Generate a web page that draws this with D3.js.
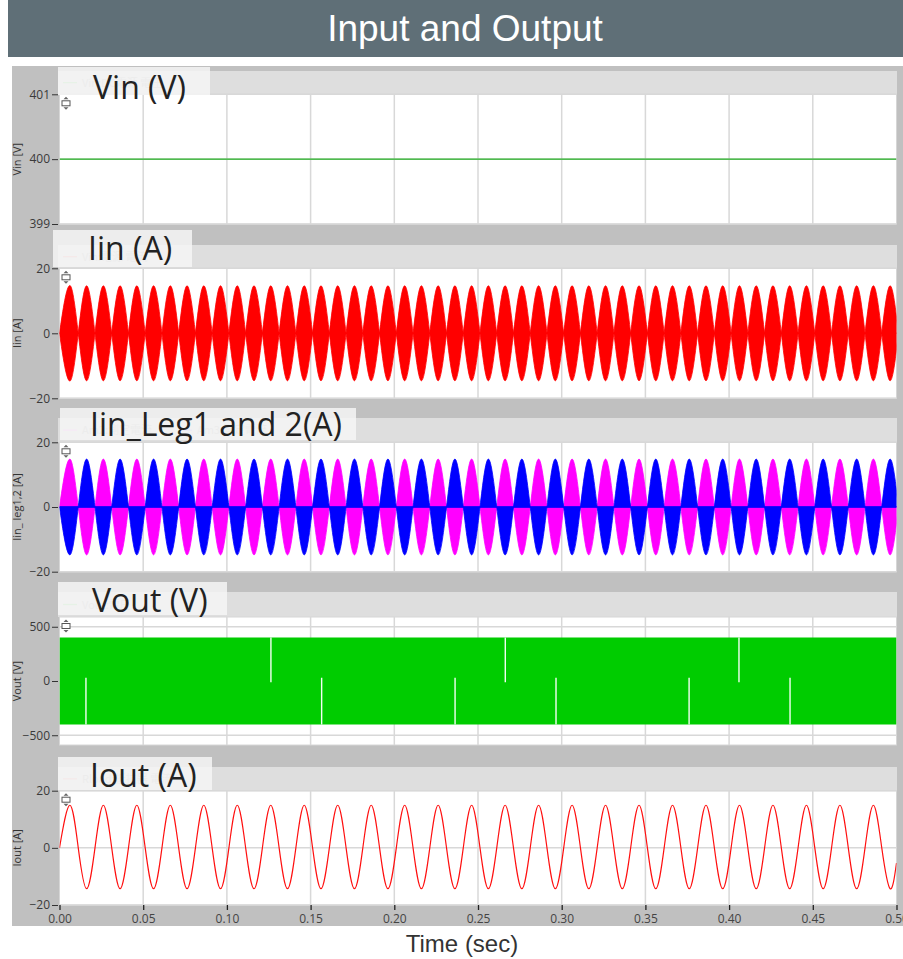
<!DOCTYPE html>
<html>
<head>
<meta charset="utf-8">
<script src="https://cdn.jsdelivr.net/npm/d3@7"></script>
<style>
  body { margin: 0; background: #fff; }
  text { font-family: "Liberation Sans", Arial, sans-serif; }
</style>
</head>
<body>
<svg id="chart" width="903" height="959"></svg>
<script>

// ---- data ----
const timeDomain = [0, 0.5]
const timeTicks = [0, 0.05, 0.1, 0.15, 0.2, 0.25, 0.3, 0.35, 0.4, 0.45, 0.5]

const vinTicks = [399, 400, 401]
const ampTicks = [-20, 0, 20]
const voutTicks = [-500, 0, 500]

// Vin: flat DC line
const vinLine = [[0, 400], [0.5, 400]]

// half-cycles: first peak at 6.2 ms, one lobe every 10 ms, zero crossings 5 ms after each peak
const firstPeak = 0.0062
const halfCycle = 0.01

// Iin envelope height per half-cycle (A)
const iinPeaks = [14.7, 14.6, 14.6, 14.6, 14.6, 14.6, 14.6, 14.6, 14.6, 14.6,
                  14.6, 14.6, 14.6, 14.6, 14.6, 14.6, 14.6, 14.6, 14.6, 14.6,
                  14.6, 14.6, 14.6, 14.6, 14.6, 14.6, 14.6, 14.6, 14.6, 14.6,
                  14.6, 14.6, 14.6, 14.6, 14.6, 14.6, 14.6, 14.6, 14.6, 14.6,
                  14.6, 14.6, 14.6, 14.6, 14.6, 14.6, 14.6, 14.6, 14.6, 14.6]

// Leg 1 (pink) signed peak per half-cycle; leg 2 (blue) is its mirror
const leg1Peaks = [14.8, -14.8, 14.8, -14.8, 14.8, -14.8, 14.8, -14.8, 14.8, -14.8,
                   14.8, -14.8, 14.8, -14.8, 14.8, -14.8, 14.8, -14.8, 14.8, -14.8,
                   14.8, -14.8, 14.8, -14.8, 14.8, -14.8, 14.8, -14.8, 14.8, -14.8,
                   14.8, -14.8, 14.8, -14.8, 14.8, -14.8, 14.8, -14.8, 14.8, -14.8,
                   14.8, -14.8, 14.8, -14.8, 14.8, -14.8, 14.8, -14.8, 14.8, -14.8]
const leg2Peaks = [-14.8, 14.8, -14.8, 14.8, -14.8, 14.8, -14.8, 14.8, -14.8, 14.8,
                   -14.8, 14.8, -14.8, 14.8, -14.8, 14.8, -14.8, 14.8, -14.8, 14.8,
                   -14.8, 14.8, -14.8, 14.8, -14.8, 14.8, -14.8, 14.8, -14.8, 14.8,
                   -14.8, 14.8, -14.8, 14.8, -14.8, 14.8, -14.8, 14.8, -14.8, 14.8,
                   -14.8, 14.8, -14.8, 14.8, -14.8, 14.8, -14.8, 14.8, -14.8, 14.8]

// Vout: switching between +400 and -400 V, drawn as a band
const voutBand = [[0, -400, 400], [0.5, -400, 400]]
// thin white gaps in the band
const voutGapTimes = [0.0158, 0.1263, 0.1566, 0.2363, 0.2663, 0.2966, 0.3761, 0.4059, 0.4364]
const voutGapSide = ['low', 'high', 'low', 'low', 'high', 'low', 'low', 'high', 'low']

// Iout: signed peak per half-cycle (A)
const ioutPeaks = [14.9, -14.3, 14.9, -14.3, 14.9, -14.3, 14.9, -14.3, 14.9, -14.3,
                   14.9, -14.3, 14.9, -14.3, 14.9, -14.3, 14.9, -14.3, 14.9, -14.3,
                   14.9, -14.3, 14.9, -14.3, 14.9, -14.3, 14.9, -14.3, 14.9, -14.3,
                   14.9, -14.3, 14.9, -14.3, 14.9, -14.3, 14.9, -14.3, 14.9, -14.3,
                   14.9, -14.3, 14.9, -14.3, 14.9, -14.3, 14.9, -14.3, 14.9, -14.3]
const ioutStart = 0
const ioutEnd = -5.3

// ---- layout ----
const plotLeft = 59.5, plotRight = 896.5

const panels = [
    { key: 'vin', label: 'Vin (V)', yTitle: 'Vin [V]', domain: [399, 401], ticks: vinTicks,
      top: 94.3, bottom: 224, stripTop: 71, box: [58, 67, 152, 28], labelX: 93, labelY: 99,
      legend: [{ x: 63, color: '#8fe38f', text: 'Vin:DC電源 電圧' }] },
    { key: 'iin', label: 'Iin (A)', yTitle: 'Iin [A]', domain: [-20, 20], ticks: ampTicks,
      top: 268.3, bottom: 398.3, stripTop: 245, box: [53, 230, 139, 37], labelX: 88, labelY: 260,
      legend: [{ x: 63, color: '#f5a3a3', text: 'Vin:電源 電流' }] },
    { key: 'leg', label: 'Iin_Leg1 and 2(A)', yTitle: 'Iin_ leg1,2 [A]', domain: [-20, 20], ticks: ampTicks,
      top: 442.3, bottom: 571.7, stripTop: 418, box: [60, 408, 296, 32], labelX: 90, labelY: 436,
      legend: [{ x: 63, color: '#ff9cff', text: 'Am2:測定電流' }, { x: 178, color: '#a0a0ff', text: 'Am3:測定電流' }] },
    { key: 'vout', label: 'Vout (V)', yTitle: 'Vout [V]', domain: [-590, 590], ticks: voutTicks,
      top: 617, bottom: 745, stripTop: 592, box: [58, 582, 169, 33], labelX: 92, labelY: 612,
      legend: [{ x: 63, color: '#8fe38f', text: 'Vout:電圧' }] },
    { key: 'iout', label: 'Iout (A)', yTitle: 'Iout [A]', domain: [-20, 20], ticks: ampTicks,
      top: 790.7, bottom: 905, stripTop: 767, box: [58, 757, 154, 33], labelX: 90, labelY: 787,
      legend: [{ x: 63, color: '#f5a3a3', text: 'Rload:抵抗器 電流' }] }
]

const svg = d3.select('#chart')
const x = d3.scaleLinear().domain(timeDomain).range([plotLeft, plotRight])

// title bar
svg.append('rect').attr('x', 8).attr('y', 0).attr('width', 895).attr('height', 57).attr('fill', '#5f6f77')
svg.append('text').attr('x', 465).attr('y', 41).attr('text-anchor', 'middle')
    .attr('fill', '#fff').style('font-size', '37px').text('Input and Output')

// gray frame
svg.append('rect').attr('x', 12).attr('y', 66).attr('width', 891).attr('height', 860).attr('fill', '#c0c0c0')

// lobe helpers: each half-cycle is drawn through zero, peak, zero
function lobeStart(k) { return k === 0 ? 0 : firstPeak + halfCycle * k - halfCycle / 2 }
function lobePoints(k, peak) {
    return [[lobeStart(k), 0], [firstPeak + halfCycle * k, peak], [firstPeak + halfCycle * k + halfCycle / 2, 0]]
}

panels.forEach(function (p) {
    const y = d3.scaleLinear().domain(p.domain).range([p.bottom, p.top])
    const g = svg.append('g').attr('class', 'panel-' + p.key)

    // legend strip
    g.append('rect').attr('x', 58).attr('y', p.stripTop).attr('width', 839).attr('height', p.top - p.stripTop)
        .attr('fill', '#dedede')
    p.legend.forEach(function (l) {
        const ly = (p.stripTop + p.top) / 2
        g.append('line').attr('x1', l.x).attr('x2', l.x + 14).attr('y1', ly).attr('y2', ly)
            .attr('stroke', l.color).attr('stroke-width', 1.2)
        g.append('text').attr('x', l.x + 19).attr('y', ly + 4).attr('fill', '#b4b4b4')
            .style('font-family', '"Noto Sans CJK JP", sans-serif').style('font-size', '11px').text(l.text)
    })

    // plot area
    g.append('rect').attr('x', plotLeft).attr('y', p.top).attr('width', plotRight - plotLeft)
        .attr('height', p.bottom - p.top).attr('fill', '#fff').attr('stroke', '#d6d6d6')

    g.append('clipPath').attr('id', 'clip-' + p.key).append('rect')
        .attr('x', plotLeft).attr('y', p.top).attr('width', plotRight - plotLeft).attr('height', p.bottom - p.top)

    // grid
    g.append('g').selectAll('line').data(timeTicks.slice(1, -1)).enter().append('line')
        .attr('x1', d => x(d)).attr('x2', d => x(d)).attr('y1', p.top).attr('y2', p.bottom)
        .attr('stroke', '#d8d8d8').attr('stroke-width', 1.5)
    g.append('g').selectAll('line').data(p.ticks).enter().append('line')
        .attr('x1', plotLeft).attr('x2', plotRight).attr('y1', d => y(d)).attr('y2', d => y(d))
        .attr('stroke', '#d8d8d8').attr('stroke-width', 1.5)

    const data = g.append('g').attr('clip-path', 'url(#clip-' + p.key + ')')

    if (p.key === 'vin') {
        data.append('path').datum(vinLine)
            .attr('d', d3.line().x(d => x(d[0])).y(d => y(d[1])))
            .attr('fill', 'none').attr('stroke', '#22b022').attr('stroke-width', 1.3)
    }

    if (p.key === 'iin') {
        const lobeArea = d3.area().curve(d3.curveMonotoneX)
            .x(d => x(d[0])).y0(d => y(-d[1])).y1(d => y(d[1]))
        data.selectAll('path').data(iinPeaks).enter().append('path')
            .attr('d', (d, k) => lobeArea(lobePoints(k, d)))
            .attr('fill', '#ff0000').attr('stroke', '#ff0000').attr('stroke-width', 0.8)
        data.append('line').attr('x1', plotLeft).attr('x2', plotRight).attr('y1', y(0)).attr('y2', y(0))
            .attr('stroke', '#ff0000').attr('stroke-width', 1.5)
    }

    if (p.key === 'leg') {
        const lobeArea = d3.area().curve(d3.curveMonotoneX)
            .x(d => x(d[0])).y0(y(0)).y1(d => y(d[1]))
        data.append('g').selectAll('path').data(leg1Peaks).enter().append('path')
            .attr('d', (d, k) => lobeArea(lobePoints(k, d)))
            .attr('fill', '#ff00ff').attr('stroke', '#ff00ff').attr('stroke-width', 0.8)
        data.append('g').selectAll('path').data(leg2Peaks).enter().append('path')
            .attr('d', (d, k) => lobeArea(lobePoints(k, d)))
            .attr('fill', '#0000ff').attr('stroke', '#0000ff').attr('stroke-width', 0.8)
        data.append('line').attr('x1', plotLeft).attr('x2', plotRight).attr('y1', y(0)).attr('y2', y(0))
            .attr('stroke', '#0000ff').attr('stroke-width', 1.5)
    }

    if (p.key === 'vout') {
        data.append('path').datum(voutBand)
            .attr('d', d3.area().x(d => x(d[0])).y0(d => y(d[1])).y1(d => y(d[2])))
            .attr('fill', '#00cc00')
        data.selectAll('line.gap').data(voutGapTimes).enter().append('line').attr('class', 'gap')
            .attr('x1', d => x(d)).attr('x2', d => x(d))
            .attr('y1', (d, i) => voutGapSide[i] === 'high' ? y(400) : y(30))
            .attr('y2', (d, i) => voutGapSide[i] === 'high' ? y(-12) : y(-400))
            .attr('stroke', '#f4fff4').attr('stroke-width', 1.4)
    }

    if (p.key === 'iout') {
        const pts = [[0, ioutStart]]
        ioutPeaks.forEach(function (v, k) {
            pts.push([firstPeak + halfCycle * k, v])
            if (k < ioutPeaks.length - 1) pts.push([firstPeak + halfCycle * k + halfCycle / 2, 0])
        })
        pts.push([timeDomain[1], ioutEnd])
        data.append('path').datum(pts)
            .attr('d', d3.line().curve(d3.curveNatural).x(d => x(d[0])).y(d => y(d[1])))
            .attr('fill', 'none').attr('stroke', '#ff1010').attr('stroke-width', 1.2)
    }

    // y axis
    const yAxis = g.append('g').attr('transform', 'translate(58,0)')
        .call(d3.axisLeft(y).tickValues(p.ticks).tickFormat(d3.format('d')).tickSize(6).tickPadding(2))
    yAxis.select('.domain').remove()
    yAxis.selectAll('line').attr('stroke', '#333')
    yAxis.selectAll('text').attr('fill', '#3a3a3a')
        .style('font-family', '"Open Sans", sans-serif').style('font-size', '12px')

    // y title
    g.append('text').attr('transform', 'translate(21,' + ((p.top + p.bottom) / 2) + ') rotate(-90)')
        .attr('text-anchor', 'middle').attr('fill', '#333')
        .style('font-family', '"Open Sans", sans-serif').style('font-size', '11px').text(p.yTitle)

    // label box over legend
    g.append('rect').attr('x', p.box[0]).attr('y', p.box[1]).attr('width', p.box[2]).attr('height', p.box[3])
        .attr('fill', '#f4f4f4').attr('opacity', 0.86)
    g.append('text').attr('x', p.labelX).attr('y', p.labelY).attr('fill', '#222')
        .style('font-family', '"Open Sans", sans-serif').style('font-size', '32px').text(p.label)

    // little scroll icon
    const ic = g.append('g').attr('transform', 'translate(66,' + (p.top + 9) + ')')
    ic.append('rect').attr('x', -4).attr('y', -2.5).attr('width', 8).attr('height', 5)
        .attr('fill', '#fff').attr('stroke', '#555').attr('stroke-width', 1)
    ic.append('path').attr('d', 'M-2.5,-4 L0,-6.5 L2.5,-4 Z M-2.5,4 L0,6.5 L2.5,4 Z').attr('fill', '#666')
})

// x axis under the last panel
const last = panels[panels.length - 1]
const xAxis = svg.append('g').attr('transform', 'translate(0,' + last.bottom + ')')
    .call(d3.axisBottom(x).tickValues(timeTicks).tickFormat(d3.format('.2f')).tickSize(5).tickPadding(4))
xAxis.select('.domain').remove()
xAxis.selectAll('line').attr('stroke', '#222').attr('stroke-width', 1.3)
xAxis.selectAll('text').attr('fill', '#444')
    .style('font-family', '"Open Sans", sans-serif').style('font-size', '12px')

svg.append('text').attr('x', 462).attr('y', 952).attr('text-anchor', 'middle').attr('fill', '#333')
    .style('font-size', '24px').text('Time (sec)')

</script>
</body>
</html>
